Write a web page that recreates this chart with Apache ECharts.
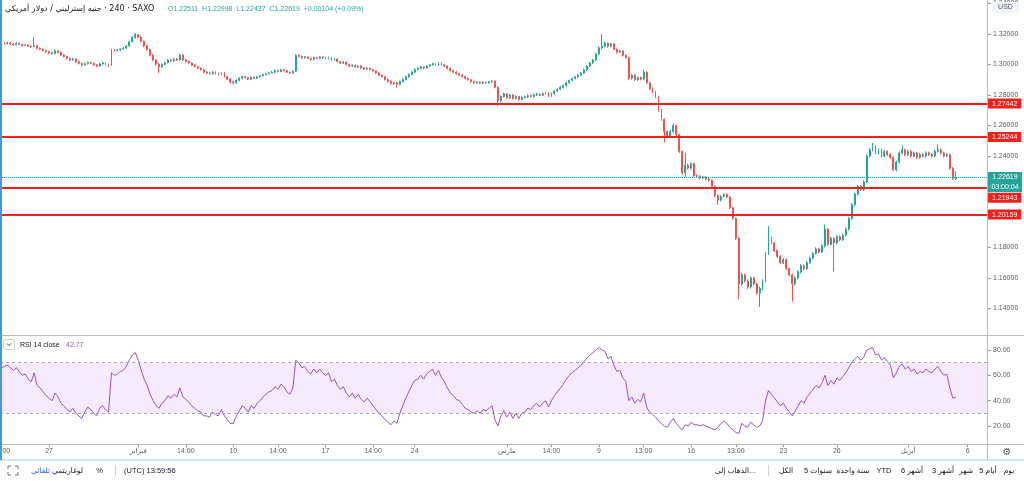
<!DOCTYPE html>
<html><head><meta charset="utf-8">
<script src="https://cdn.jsdelivr.net/npm/echarts@6/dist/echarts.min.js"></script>
<style>html,body{margin:0;padding:0;background:#fff;overflow:hidden}#c{width:1024px;height:481px}</style>
</head><body><div id="c"></div>
<script>
// ---- data (GBP/USD 4h, SAXO) ----
const opens=[1.3063,1.3141,1.3138,1.3142,1.3135,1.3130,1.3138,1.3132,1.3125,1.3128,
1.3120,1.3118,1.3124,1.3108,1.3100,1.3092,1.3085,1.3078,1.3072,1.3090,
1.3080,1.3062,1.3052,1.3040,1.3030,1.3036,1.3018,1.3008,1.2996,1.3006,
1.3014,1.3008,1.2998,1.2990,1.3004,1.3010,1.3000,1.2994,1.3096,1.3090,
1.3095,1.3102,1.3108,1.3122,1.3150,1.3178,1.3196,1.3180,1.3152,1.3122,
1.3098,1.3062,1.3030,1.3002,1.2986,1.3000,1.3012,1.3030,1.3024,1.3036,
1.3030,1.3062,1.3030,1.3020,1.3010,1.2996,1.2986,1.2976,1.2966,1.2950,
1.2944,1.2940,1.2950,1.2940,1.2934,1.2946,1.2920,1.2904,1.2886,1.2880,
1.2896,1.2910,1.2920,1.2914,1.2904,1.2916,1.2910,1.2920,1.2926,1.2934,
1.2940,1.2946,1.2950,1.2960,1.2955,1.2965,1.2960,1.2950,1.2944,1.2956,
1.3060,1.3054,1.3044,1.3050,1.3040,1.3034,1.3046,1.3040,1.3050,1.3044,
1.3040,1.3046,1.3030,1.3036,1.3020,1.3010,1.3016,1.3000,1.2990,1.2996,
1.2984,1.2990,1.2978,1.2970,1.2976,1.2966,1.2958,1.2945,1.2930,1.2920,
1.2902,1.2890,1.2876,1.2880,1.2870,1.2888,1.2902,1.2920,1.2935,1.2950,
1.2968,1.2975,1.2985,1.2978,1.2990,1.2998,1.3006,1.2996,1.3010,1.2998,
1.2990,1.2975,1.2960,1.2950,1.2940,1.2932,1.2920,1.2908,1.2900,1.2888,
1.2880,1.2886,1.2878,1.2884,1.2880,1.2886,1.2892,1.2850,1.2762,1.2790,
1.2808,1.2782,1.2800,1.2778,1.2790,1.2770,1.2784,1.2788,1.2796,1.2790,
1.2800,1.2806,1.2798,1.2808,1.2812,1.2795,1.2810,1.2826,1.2838,1.2850,
1.2862,1.2880,1.2896,1.2908,1.2920,1.2930,1.2944,1.2965,1.2990,1.3010,
1.3030,1.3070,1.3110,1.3120,1.3140,1.3120,1.3135,1.3100,1.3080,1.3090,
1.3060,1.3045,1.2910,1.2930,1.2900,1.2915,1.2905,1.2950,1.2880,1.2840,
1.2820,1.2790,1.2700,1.2640,1.2560,1.2530,1.2560,1.2600,1.2540,1.2430,
1.2290,1.2340,1.2320,1.2350,1.2270,1.2268,1.2255,1.2262,1.2248,1.2240,
1.2200,1.2140,1.2110,1.2135,1.2148,1.2130,1.2060,1.1990,1.1860,1.1560,
1.1620,1.1580,1.1540,1.1600,1.1560,1.1500,1.1530,1.1580,1.1760,1.1860,
1.1830,1.1780,1.1740,1.1700,1.1720,1.1660,1.1620,1.1560,1.1600,1.1640,
1.1680,1.1660,1.1700,1.1730,1.1760,1.1790,1.1770,1.1810,1.1920,1.1820,
1.1860,1.1830,1.1870,1.1850,1.1880,1.1920,1.1990,1.2080,1.2150,1.2200,
1.2180,1.2230,1.2400,1.2440,1.2460,1.2420,1.2440,1.2400,1.2430,1.2410,
1.2390,1.2310,1.2360,1.2420,1.2440,1.2410,1.2430,1.2400,1.2420,1.2390,
1.2410,1.2400,1.2420,1.2410,1.2400,1.2430,1.2440,1.2420,1.2400,1.2410,
1.2320,1.2251];
const highs=[1.3150,1.3148,1.3150,1.3148,1.3140,1.3145,1.3144,1.3136,1.3134,1.3132,
1.3126,1.3180,1.3128,1.3112,1.3106,1.3098,1.3090,1.3084,1.3098,1.3094,
1.3086,1.3068,1.3058,1.3046,1.3044,1.3040,1.3024,1.3012,1.3012,1.3020,
1.3018,1.3012,1.3002,1.3010,1.3016,1.3014,1.3006,1.3102,1.3102,1.3100,
1.3108,1.3114,1.3128,1.3158,1.3186,1.3207,1.3200,1.3186,1.3158,1.3128,
1.3104,1.3068,1.3036,1.3008,1.3008,1.3018,1.3036,1.3036,1.3042,1.3042,
1.3070,1.3066,1.3036,1.3026,1.3016,1.3002,1.2992,1.2982,1.2972,1.2956,
1.2950,1.2956,1.2954,1.2946,1.2952,1.2950,1.2926,1.2910,1.2892,1.2902,
1.2916,1.2926,1.2926,1.2918,1.2922,1.2920,1.2926,1.2932,1.2940,1.2946,
1.2952,1.2958,1.2966,1.2966,1.2972,1.2970,1.2964,1.2954,1.2962,1.3068,
1.3066,1.3060,1.3056,1.3054,1.3044,1.3052,1.3050,1.3056,1.3054,1.3050,
1.3052,1.3050,1.3042,1.3040,1.3026,1.3022,1.3020,1.3006,1.3002,1.3000,
1.2996,1.2994,1.2984,1.2982,1.2980,1.2972,1.2962,1.2950,1.2936,1.2926,
1.2908,1.2896,1.2888,1.2886,1.2894,1.2908,1.2926,1.2942,1.2956,1.2974,
1.2982,1.2992,1.2990,1.2996,1.3004,1.3012,1.3010,1.3016,1.3014,1.3002,
1.2994,1.2980,1.2966,1.2956,1.2946,1.2936,1.2926,1.2914,1.2904,1.2894,
1.2892,1.2890,1.2890,1.2888,1.2892,1.2898,1.2896,1.2856,1.2798,1.2816,
1.2812,1.2808,1.2804,1.2798,1.2794,1.2792,1.2796,1.2804,1.2802,1.2808,
1.2814,1.2812,1.2816,1.2820,1.2818,1.2816,1.2832,1.2844,1.2858,1.2868,
1.2886,1.2902,1.2914,1.2926,1.2938,1.2950,1.2972,1.2996,1.3018,1.3038,
1.3078,1.3118,1.3200,1.3152,1.3146,1.3142,1.3140,1.3106,1.3098,1.3094,
1.3066,1.3050,1.2938,1.2936,1.2922,1.2920,1.2966,1.2956,1.2886,1.2848,
1.2826,1.2796,1.2708,1.2648,1.2568,1.2570,1.2614,1.2606,1.2546,1.2436,
1.2420,1.2348,1.2358,1.2356,1.2278,1.2274,1.2270,1.2268,1.2256,1.2246,
1.2206,1.2146,1.2142,1.2156,1.2154,1.2136,1.2066,1.1996,1.1866,1.1632,
1.1628,1.1590,1.1610,1.1608,1.1566,1.1540,1.1590,1.1770,1.1940,1.1870,
1.1836,1.1786,1.1750,1.1730,1.1726,1.1668,1.1628,1.1610,1.1650,1.1690,
1.1688,1.1710,1.1740,1.1770,1.1800,1.1798,1.1820,1.1950,1.1928,1.1870,
1.1866,1.1880,1.1878,1.1890,1.1930,1.2000,1.2090,1.2160,1.2210,1.2208,
1.2240,1.2410,1.2452,1.2485,1.2468,1.2450,1.2448,1.2440,1.2438,1.2418,
1.2396,1.2370,1.2430,1.2470,1.2448,1.2440,1.2438,1.2430,1.2428,1.2420,
1.2418,1.2430,1.2428,1.2418,1.2440,1.2475,1.2448,1.2428,1.2420,1.2416,
1.2326,1.2300];
const lows=[1.3055,1.3130,1.3132,1.3128,1.3122,1.3126,1.3126,1.3118,1.3120,1.3114,
1.3110,1.3112,1.3100,1.3094,1.3086,1.3078,1.3070,1.3064,1.3066,1.3074,
1.3056,1.3046,1.3034,1.3022,1.3026,1.3010,1.3000,1.2986,1.2990,1.3000,
1.3002,1.2990,1.2982,1.2986,1.2998,1.2994,1.2984,1.2990,1.3084,1.3086,
1.3090,1.3096,1.3102,1.3118,1.3144,1.3170,1.3172,1.3146,1.3114,1.3090,
1.3054,1.3022,1.2994,1.2945,1.2978,1.2994,1.3006,1.3016,1.3018,1.3024,
1.3026,1.3024,1.3012,1.3004,1.2990,1.2980,1.2970,1.2960,1.2944,1.2938,
1.2934,1.2934,1.2934,1.2928,1.2928,1.2914,1.2898,1.2876,1.2870,1.2874,
1.2890,1.2904,1.2908,1.2898,1.2898,1.2904,1.2904,1.2914,1.2920,1.2928,
1.2934,1.2940,1.2944,1.2948,1.2950,1.2954,1.2944,1.2936,1.2938,1.2950,
1.3046,1.3038,1.3038,1.3034,1.3026,1.3028,1.3034,1.3034,1.3038,1.3034,
1.3034,1.3024,1.3024,1.3014,1.3004,1.3004,1.2994,1.2984,1.2984,1.2978,
1.2978,1.2972,1.2964,1.2964,1.2960,1.2952,1.2938,1.2924,1.2914,1.2896,
1.2882,1.2868,1.2866,1.2850,1.2864,1.2882,1.2896,1.2914,1.2928,1.2944,
1.2960,1.2968,1.2970,1.2972,1.2984,1.2992,1.2990,1.2990,1.2992,1.2984,
1.2968,1.2954,1.2944,1.2934,1.2926,1.2914,1.2902,1.2894,1.2882,1.2874,
1.2874,1.2872,1.2872,1.2874,1.2874,1.2880,1.2844,1.2726,1.2752,1.2782,
1.2774,1.2774,1.2770,1.2770,1.2762,1.2764,1.2776,1.2780,1.2784,1.2784,
1.2794,1.2792,1.2792,1.2802,1.2788,1.2788,1.2804,1.2820,1.2832,1.2844,
1.2856,1.2874,1.2890,1.2902,1.2914,1.2924,1.2938,1.2958,1.2984,1.3004,
1.3024,1.3064,1.3100,1.3112,1.3110,1.3112,1.3094,1.3072,1.3074,1.3052,
1.3038,1.2900,1.2900,1.2892,1.2894,1.2896,1.2900,1.2872,1.2832,1.2812,
1.2780,1.2690,1.2630,1.2488,1.2518,1.2520,1.2550,1.2530,1.2420,1.2276,
1.2262,1.2310,1.2312,1.2262,1.2258,1.2246,1.2248,1.2240,1.2232,1.2190,
1.2130,1.2080,1.2102,1.2128,1.2122,1.2050,1.1980,1.1850,1.1460,1.1548,
1.1570,1.1528,1.1530,1.1550,1.1490,1.1409,1.1520,1.1570,1.1750,1.1820,
1.1770,1.1730,1.1690,1.1690,1.1650,1.1610,1.1445,1.1550,1.1590,1.1630,
1.1650,1.1652,1.1692,1.1722,1.1752,1.1760,1.1762,1.1800,1.1810,1.1812,
1.1642,1.1820,1.1840,1.1842,1.1872,1.1912,1.1982,1.2070,1.2140,1.2170,
1.2170,1.2222,1.2390,1.2430,1.2410,1.2410,1.2390,1.2392,1.2400,1.2380,
1.2300,1.2300,1.2350,1.2412,1.2400,1.2400,1.2390,1.2392,1.2380,1.2382,
1.2390,1.2392,1.2400,1.2390,1.2392,1.2422,1.2410,1.2390,1.2392,1.2310,
1.2244,1.2244];
const closes=[1.3141,1.3138,1.3142,1.3135,1.3130,1.3138,1.3132,1.3125,1.3128,1.3120,
1.3118,1.3124,1.3108,1.3100,1.3092,1.3085,1.3078,1.3072,1.3090,1.3080,
1.3062,1.3052,1.3040,1.3030,1.3036,1.3018,1.3008,1.2996,1.3006,1.3014,
1.3008,1.2998,1.2990,1.3004,1.3010,1.3000,1.2994,1.3096,1.3090,1.3095,
1.3102,1.3108,1.3122,1.3150,1.3178,1.3196,1.3180,1.3152,1.3122,1.3098,
1.3062,1.3030,1.3002,1.2986,1.3000,1.3012,1.3030,1.3024,1.3036,1.3030,
1.3062,1.3030,1.3020,1.3010,1.2996,1.2986,1.2976,1.2966,1.2950,1.2944,
1.2940,1.2950,1.2940,1.2934,1.2946,1.2920,1.2904,1.2886,1.2880,1.2896,
1.2910,1.2920,1.2914,1.2904,1.2916,1.2910,1.2920,1.2926,1.2934,1.2940,
1.2946,1.2950,1.2960,1.2955,1.2965,1.2960,1.2950,1.2944,1.2956,1.3060,
1.3054,1.3044,1.3050,1.3040,1.3034,1.3046,1.3040,1.3050,1.3044,1.3040,
1.3046,1.3030,1.3036,1.3020,1.3010,1.3016,1.3000,1.2990,1.2996,1.2984,
1.2990,1.2978,1.2970,1.2976,1.2966,1.2958,1.2945,1.2930,1.2920,1.2902,
1.2890,1.2876,1.2880,1.2870,1.2888,1.2902,1.2920,1.2935,1.2950,1.2968,
1.2975,1.2985,1.2978,1.2990,1.2998,1.3006,1.2996,1.3010,1.2998,1.2990,
1.2975,1.2960,1.2950,1.2940,1.2932,1.2920,1.2908,1.2900,1.2888,1.2880,
1.2886,1.2878,1.2884,1.2880,1.2886,1.2892,1.2850,1.2762,1.2790,1.2808,
1.2782,1.2800,1.2778,1.2790,1.2770,1.2784,1.2788,1.2796,1.2790,1.2800,
1.2806,1.2798,1.2808,1.2812,1.2795,1.2810,1.2826,1.2838,1.2850,1.2862,
1.2880,1.2896,1.2908,1.2920,1.2930,1.2944,1.2965,1.2990,1.3010,1.3030,
1.3070,1.3110,1.3120,1.3140,1.3120,1.3135,1.3100,1.3080,1.3090,1.3060,
1.3045,1.2910,1.2930,1.2900,1.2915,1.2905,1.2950,1.2880,1.2840,1.2820,
1.2790,1.2700,1.2640,1.2560,1.2530,1.2560,1.2600,1.2540,1.2430,1.2290,
1.2340,1.2320,1.2350,1.2270,1.2268,1.2255,1.2262,1.2248,1.2240,1.2200,
1.2140,1.2110,1.2135,1.2148,1.2130,1.2060,1.1990,1.1860,1.1560,1.1620,
1.1580,1.1540,1.1600,1.1560,1.1500,1.1530,1.1580,1.1760,1.1860,1.1830,
1.1780,1.1740,1.1700,1.1720,1.1660,1.1620,1.1560,1.1600,1.1640,1.1680,
1.1660,1.1700,1.1730,1.1760,1.1790,1.1770,1.1810,1.1920,1.1820,1.1860,
1.1830,1.1870,1.1850,1.1880,1.1920,1.1990,1.2080,1.2150,1.2200,1.2180,
1.2230,1.2400,1.2440,1.2460,1.2420,1.2440,1.2400,1.2430,1.2410,1.2390,
1.2310,1.2360,1.2420,1.2440,1.2410,1.2430,1.2400,1.2420,1.2390,1.2410,
1.2400,1.2420,1.2410,1.2400,1.2430,1.2440,1.2420,1.2400,1.2410,1.2320,
1.2251,1.2262];
const rsi=[66,67,68,66,64,66,63,60,61,57,
55,62,52,50,47,44,42,40,46,43,
38,36,33,31,34,30,28,26,31,35,
33,30,28,34,36,33,31,62,60,61,
63,64,67,72,76,78,72,64,57,52,
45,40,36,34,38,40,44,42,45,43,
50,43,41,39,36,34,32,31,28,28,
27,31,29,28,33,28,25,22,22,28,
32,36,34,31,36,34,38,40,43,45,
47,48,51,49,53,51,47,45,50,72,
70,66,67,63,61,65,62,65,62,60,
62,55,57,52,49,51,46,43,46,42,
45,41,39,42,39,36,33,30,28,25,
23,21,24,22,30,36,42,47,52,56,
57,60,57,61,63,65,60,64,58,55,
50,46,44,41,40,37,34,33,31,30,
32,30,33,32,34,36,25,20,28,32,
27,31,26,30,26,30,31,34,33,36,
38,35,38,40,35,40,44,47,50,53,
57,60,62,64,66,68,71,74,76,78,
80,82,80,79,73,75,68,63,64,58,
55,40,43,38,41,39,46,35,31,29,
27,24,22,20,19,23,26,22,19,17,
21,20,23,21,21,20,21,20,19,18,
17,19,22,24,22,19,17,15,14,22,
20,19,23,21,19,20,24,40,48,45,
42,39,36,38,34,31,28,32,36,40,
38,43,46,49,52,50,54,60,52,56,
53,58,56,59,62,66,70,73,75,72,
74,80,81,82,76,77,72,74,71,68,
58,62,67,69,65,67,63,65,61,63,
62,65,63,62,65,67,63,60,61,50,
42,42.77];
const levels=[1.27442,1.25244,1.21943,1.20159];
const lastPrice=1.22619;
const countdown='03:00:04';
const rsiBand=[30,70];
const tickIdx=[0,16,46,62,78,93,109,125,139,170,185,201,216,232,247,263,281,305,325];
const tickText=['14:00','27','فبراير','14:00','10','14:00','17','14:00','24','مارس','14:00','9','13:00','16','13:00','23','26','أبريل','6'];
const SLOTS=332;

// ---- chart ----
const FONT='"Liberation Sans","DejaVu Sans",sans-serif';
const UP='#26a69a',DN='#ef5350',LV='#f2201c',AX='#555a63',SEP='#b8bbc2';
const cats=Array.from({length:SLOTS},(_,i)=>'b'+i);
const labelAt={};tickIdx.forEach((ix,k)=>labelAt[ix]=tickText[k]);
const isTick=i=>labelAt[i]!==undefined;
const candleData=closes.map((c,i)=>[opens[i],c,lows[i],highs[i]]);
const hiddenPrice=[122,120];
const tagRich={backgroundColor:LV,color:'#fff',fontSize:7,fontFamily:FONT,padding:[2,4,1,4],lineHeight:10};
const tagShift={2:21};
const chart=echarts.init(document.getElementById('c'),null,{renderer:'canvas',width:1024,height:481});
const t=(x,y,text,o)=>Object.assign({type:'text',x:x,y:y,silent:true,z:50,style:Object.assign({text:text,fill:'#131722',font:'7.5px '+FONT,verticalAlign:'middle',align:'left'},o||{})});
const ln=(x1,y1,x2,y2,c,w)=>({type:'line',silent:true,z:40,shape:{x1,y1,x2,y2},style:{stroke:c,lineWidth:w||1}});
chart.setOption({
  animation:false,
  textStyle:{fontFamily:FONT},
  grid:[
    {left:0,right:37,top:3.56,height:304.8,outerBoundsMode:'none'},
    {left:0,right:37,top:350,height:76,outerBoundsMode:'none'},
    {left:0,right:37,top:0,height:444,outerBoundsMode:'none'}
  ],
  xAxis:[
    {type:'category',gridIndex:0,data:cats,show:false,boundaryGap:true},
    {type:'category',gridIndex:1,data:cats,show:false,boundaryGap:true},
    {type:'category',gridIndex:2,data:cats,boundaryGap:true,position:'bottom',
      axisLine:{show:false},
      axisTick:{show:true,alignWithLabel:true,interval:(i)=>isTick(i),length:3,lineStyle:{color:'#9598a1'}},
      axisLabel:{interval:(i)=>isTick(i),formatter:(v,i)=>labelAt[i]||'',color:AX,fontSize:7,margin:4,hideOverlap:false},
      splitLine:{show:false}}
  ],
  yAxis:[
    {type:'value',gridIndex:0,position:'right',min:1.14,max:1.34,interval:0.02,
      axisLine:{show:false},axisTick:{show:true,length:4,lineStyle:{color:'#9598a1'}},
      axisLabel:{color:AX,fontSize:7,margin:6,hideOverlap:false,showMinLabel:true,showMaxLabel:true,
        formatter:v=>hiddenPrice.includes(Math.round(v*100))?'':v.toFixed(5)},
      splitLine:{show:false}},
    {type:'value',gridIndex:1,position:'right',min:20,max:80,interval:20,
      axisLine:{show:false},axisTick:{show:true,length:4,lineStyle:{color:'#9598a1'}},
      axisLabel:{color:AX,fontSize:7,margin:6,formatter:v=>v.toFixed(2)},
      splitLine:{show:false}},
    {type:'value',gridIndex:2,show:false}
  ],
  series:[
    {type:'candlestick',xAxisIndex:0,yAxisIndex:0,data:candleData,barWidth:1.4,clip:false,
      itemStyle:{color:UP,color0:DN,borderColor:UP,borderColor0:DN,borderWidth:1},
      markLine:{silent:true,symbol:['none','none'],animation:false,precision:5,
        data:levels.map((v,k)=>({yAxis:v,lineStyle:{color:LV,width:2,type:'solid'},
          label:{show:true,position:'end',distance:1,formatter:'{t|'+v.toFixed(5)+'}',padding:[tagShift[k]||0,0,0,0],rich:{t:tagRich}}})).concat([
          {yAxis:lastPrice,lineStyle:{color:UP,width:1,type:[1,1]},
           label:{show:true,position:'end',distance:1,padding:[10,0,0,0],
             formatter:'{p|'+lastPrice.toFixed(5)+'}\n{p|'+countdown+'}',
             rich:{p:Object.assign({},tagRich,{backgroundColor:UP,padding:[0,4,0,4],height:10,lineHeight:10,width:26,align:'center'})}}}
        ])}},
    {type:'line',xAxisIndex:1,yAxisIndex:1,data:rsi,symbol:'none',showSymbol:false,clip:false,
      lineStyle:{color:'#9c4fc2',width:1},
      markArea:{silent:true,itemStyle:{color:'rgba(153,21,255,0.09)'},data:[[{yAxis:rsiBand[1]},{yAxis:rsiBand[0]}]]},
      markLine:{silent:true,symbol:['none','none'],label:{show:false},animation:false,precision:2,
        lineStyle:{color:'#a3a6af',type:[3,3],width:1},data:[{yAxis:rsiBand[1]},{yAxis:rsiBand[0]}]}}
  ],
  graphic:{elements:[
    ln(987.5,0,987.5,460,SEP),
    ln(0,335.5,1024,335.5,SEP),
    ln(0,444.5,1024,444.5,SEP),
    ln(0,460,1024,460,'#bcdcf5',1.5),
    ln(1,0,1,460,'#3d9be9',2),
    {type:'rect',silent:true,z:45,shape:{x:992,y:2,width:27,height:11,r:2},style:{fill:'#f0f3fa'}},
    t(1005.5,7.5,'USD',{align:'center',fill:'#555a63',font:'7px '+FONT}),
    t(5,9,'جنيه إسترليني / دولار أمريكي\u200E · 240 · SAXO',{font:'8px "DejaVu Sans",sans-serif'}),
    t(168,9,'O1.22511  H1.22998  L1.22437  C1.22619  +0.00104 (+0.09%)',{fill:UP,font:'7px '+FONT}),
    {type:'rect',silent:true,z:45,shape:{x:3.5,y:339.5,width:11,height:10,r:2},style:{fill:'#fff',stroke:'#c9ccd3'}},
    {type:'polyline',silent:true,z:46,shape:{points:[[7,343.5],[9,345.5],[11,343.5]]},style:{stroke:'#444',lineWidth:1,fill:null}},
    t(20,345,'RSI 14 close',{font:'7px '+FONT}),
    t(66,345,'42.77',{fill:'#9c4fc2',font:'7px '+FONT}),
    t(1007,452.5,'⚙',{align:'center',fill:'#555a63',font:'10px "DejaVu Sans",sans-serif'}),
    {type:'polyline',silent:true,z:46,shape:{points:[[8,469],[8,466],[11,466]]},style:{stroke:'#777',fill:null}},
    {type:'polyline',silent:true,z:46,shape:{points:[[15,466],[18,466],[18,469]]},style:{stroke:'#777',fill:null}},
    {type:'polyline',silent:true,z:46,shape:{points:[[18,472],[18,475],[15,475]]},style:{stroke:'#777',fill:null}},
    {type:'polyline',silent:true,z:46,shape:{points:[[11,475],[8,475],[8,472]]},style:{stroke:'#777',fill:null}},
    t(40.5,470.5,'تلقائي',{align:'center',fill:'#2962ff'}),
    t(67.5,470.5,'لوغاريتمي',{align:'center'}),
    t(99.5,470.5,'%',{align:'center'}),
    ln(115.5,465,115.5,476,'#d1d4dc'),
    t(124,470.5,'(UTC) 13:59:56'),
    t(1009,470.5,'يوم',{align:'center'}),
    t(988,470.5,'5 أيام',{align:'center'}),
    t(966,470.5,'شهر',{align:'center'}),
    t(943,470.5,'3 أشهر',{align:'center'}),
    t(912,470.5,'6 أشهر',{align:'center'}),
    t(884,470.5,'YTD',{align:'center'}),
    t(853,470.5,'سنة واحدة',{align:'center'}),
    t(818,470.5,'5 سنوات',{align:'center'}),
    t(786,470.5,'الكل',{align:'center'}),
    ln(768.5,465,768.5,476,'#d1d4dc'),
    t(735,470.5,'الذهاب إلى...',{align:'center'})
  ]}
});
</script></body></html>
